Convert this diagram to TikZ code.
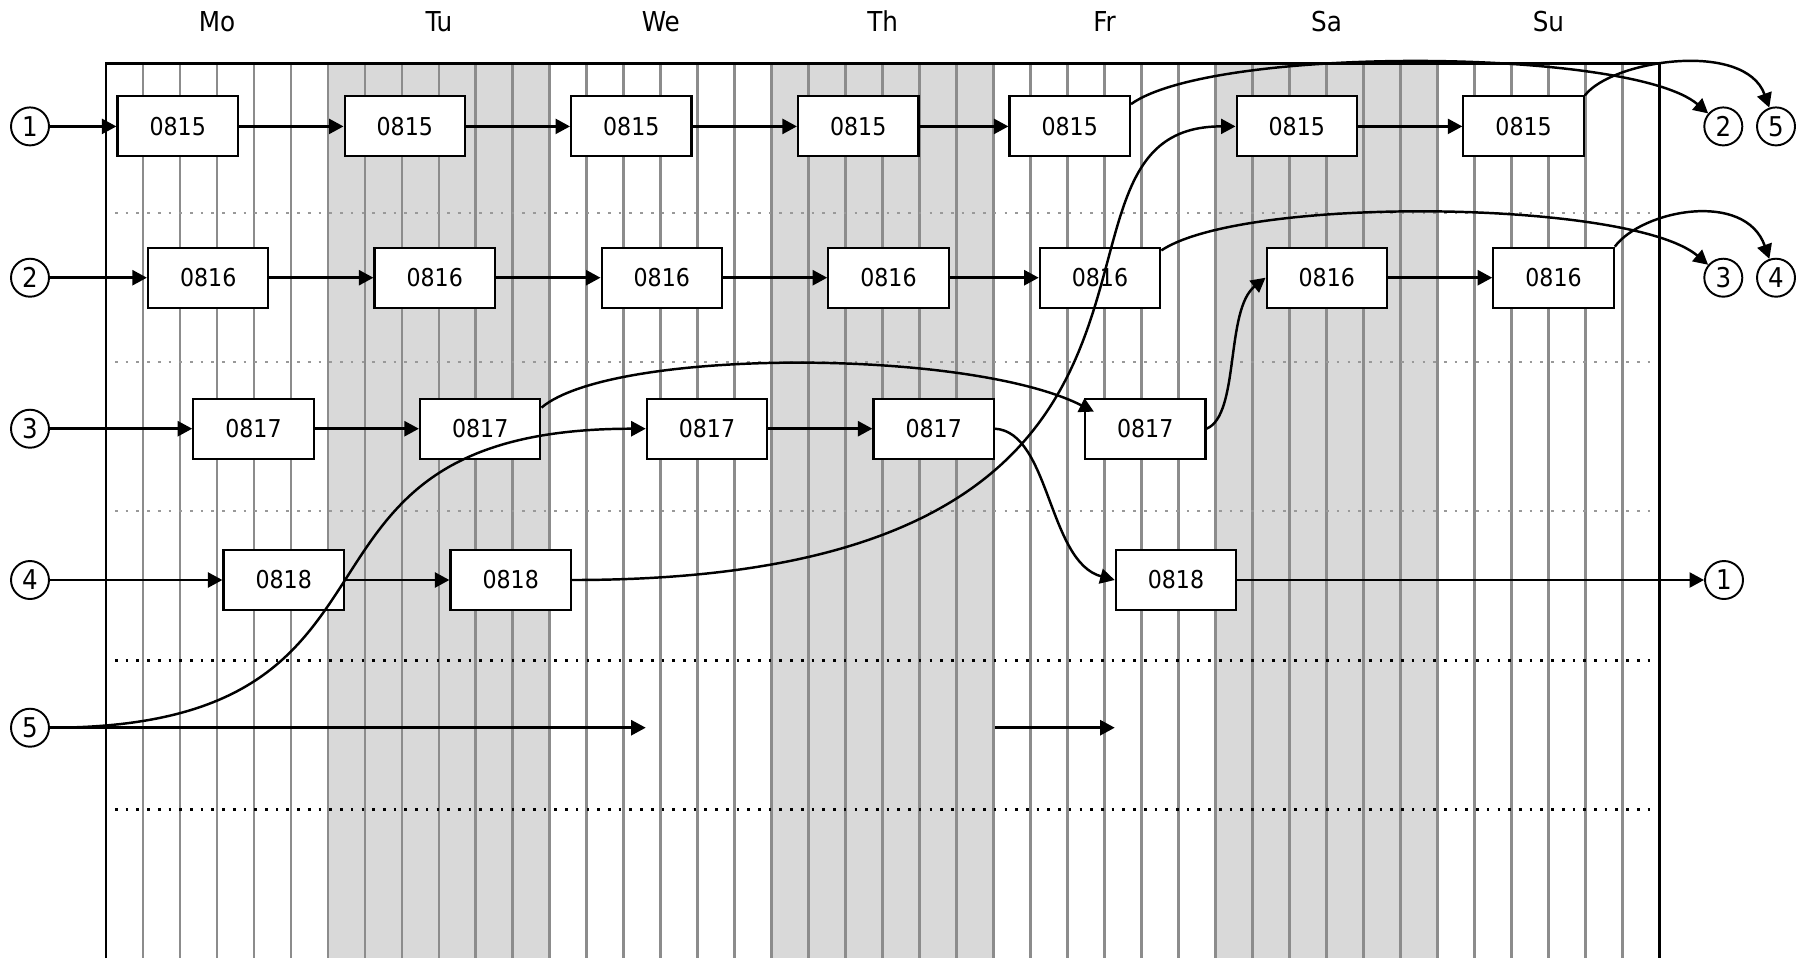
\documentclass[tikz,border=0pt]{standalone}
\usepackage{fontspec}
\setmainfont{DejaVu Sans Condensed}
\usetikzlibrary{arrows.meta}
\definecolor{dayshade}{HTML}{D9D9D9}
\definecolor{gridgrey}{HTML}{8C8C8C}
\definecolor{dotgrey}{HTML}{999999}
\begin{document}
\begin{tikzpicture}[x=0.02cm, y=-0.02cm,
  slot/.style={draw, line width=1.2pt, fill=white, minimum width=2.41cm, minimum height=1.2cm, inner sep=0pt, font=\fontsize{14}{16}\selectfont},
  ring/.style={draw, circle, line width=1.1pt, fill=white, minimum size=0.76cm, inner sep=0pt, font=\fontsize{15.5}{17}\selectfont},
  dayname/.style={anchor=base, font=\fontsize{15.6}{18}\selectfont},
  link/.style={line width=1.4pt, -{Triangle[length=0.29cm, width=0.3cm]}},
  dotrow/.style={line width=1.5pt, dash pattern=on 1.5pt off 4.6pt}]
\useasboundingbox (0,0) rectangle (1799,958);
\foreach \d in {1,3,5}
  \fill[dayshade] (106+221.9*\d,63.5) rectangle (327.9+221.9*\d,958);
\foreach \k in {1,...,41}
  \draw[gridgrey, line width=1.5pt] (106+36.98*\k,63.5) -- (106+36.98*\k,958);
\foreach \y in {212.9,362.1,511}
  \draw[dotrow, dotgrey] (115,\y) -- (1652,\y);
\foreach \y in {660.3,809.3}
  \draw[dotrow, black] (115,\y) -- (1652,\y);
\draw[line width=1.5pt] (106,958) -- (106,63.5) -- (1659.3,63.5) -- (1659.3,958);
\foreach \dd [count=\i from 0] in {Mo,Tu,We,Th,Fr,Sa,Su}
  \node[dayname] (day\i) at (217+221.9*\i,31.7) {\dd};

\node[ring] (in1) at (30,126.4) {1};
\node[ring] (in2) at (30,277.7) {2};
\node[ring] (in3) at (30,428.7) {3};
\node[ring] (in4) at (30,580) {4};
\node[ring] (in5) at (30,727.7) {5};
\node[ring] (out2) at (1723.3,126.4) {2};
\node[ring] (out5) at (1776,126.4) {5};
\node[ring] (out3) at (1723.3,277.7) {3};
\node[ring] (out4) at (1776,277.7) {4};
\node[ring] (out1) at (1724,580) {1};

\node[slot] (mo1) at (177.7,126.4) {0815};
\node[slot] (tu1) at (404.8,126.4) {0815};
\node[slot] (we1) at (631.3,126.4) {0815};
\node[slot] (th1) at (858.2,126.4) {0815};
\node[slot] (fr1) at (1069.7,126.4) {0815};
\node[slot] (sa1) at (1296.8,126.4) {0815};
\node[slot] (su1) at (1523.6,126.4) {0815};
\node[slot] (mo2) at (208.2,277.7) {0816};
\node[slot] (tu2) at (434.7,277.7) {0816};
\node[slot] (we2) at (661.8,277.7) {0816};
\node[slot] (th2) at (888.5,277.7) {0816};
\node[slot] (fr2) at (1100,277.7) {0816};
\node[slot] (sa2) at (1326.8,277.7) {0816};
\node[slot] (su2) at (1553.5,277.7) {0816};
\node[slot] (mo3) at (253.5,428.7) {0817};
\node[slot] (tu3) at (480.2,428.7) {0817};
\node[slot] (we3) at (707,428.7) {0817};
\node[slot] (th3) at (933.7,428.7) {0817};
\node[slot] (fr3) at (1145.2,428.7) {0817};
\node[slot] (mo4) at (283.7,580) {0818};
\node[slot] (tu4) at (510.7,580) {0818};
\node[slot] (fr4) at (1176,580) {0818};
\coordinate (w5) at (we3.west |- in5);
\coordinate (t5) at (th3.east |- in5);
\coordinate (f5) at (fr4.west |- in5);

\draw[link] (in1) -- (mo1);
\draw[link] (mo1) -- (tu1);
\draw[link] (tu1) -- (we1);
\draw[link] (we1) -- (th1);
\draw[link] (th1) -- (fr1);
\draw[link] (sa1) -- (su1);
\draw[link] (in2) -- (mo2);
\draw[link] (mo2) -- (tu2);
\draw[link] (tu2) -- (we2);
\draw[link] (we2) -- (th2);
\draw[link] (th2) -- (fr2);
\draw[link] (sa2) -- (su2);
\draw[link] (in3) -- (mo3);
\draw[link] (mo3) -- (tu3);
\draw[link] (we3) -- (th3);
\draw[link] (in4) -- (mo4);
\draw[link] (mo4) -- (tu4);
\draw[link] (fr4) -- (out1);
\draw[link] (in5) -- (w5);
\draw[link] (t5) -- (f5);

\draw[link] (fr1.20) .. controls (1214,45) and (1632,48) .. (out2);
\draw[link] (su1.north east) .. controls (1612,60) and (1745,40) .. (out5);
\draw[link] (fr2.24) .. controls (1245,195) and (1632,200) .. (out3);
\draw[link] (su2.north east) .. controls (1642,210) and (1745,190) .. (out4);
\draw[link] (tu3.19) .. controls (612,348) and (968,348) .. ([shift={(10,14)}]fr3.north west);
\draw[link] (fr3.east) .. controls (1240,415) and (1225,310) .. (sa2.west);
\draw[link] (th3.east) .. controls (1050,432) and (1048,562) .. (fr4.west);
\draw[link] (tu4.east) .. controls (1273,580) and (1004,126) .. (sa1.west);
\draw[link] (in5) .. controls (447,727.7) and (249,428.7) .. (we3.west);
\end{tikzpicture}
\end{document}
